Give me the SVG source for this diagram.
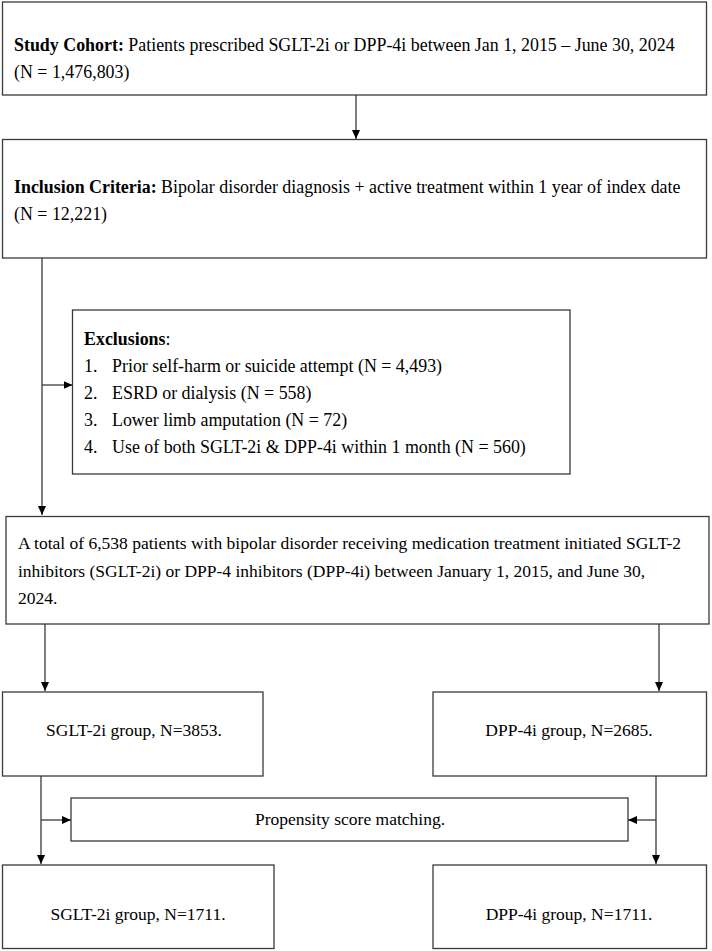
<svg xmlns="http://www.w3.org/2000/svg" width="712" height="951" viewBox="0 0 712 951">
<defs>
<marker id="ah" markerWidth="10" markerHeight="10" refX="9" refY="4" orient="auto" markerUnits="userSpaceOnUse">
<path d="M0,0 L9,4 L0,8 Z" fill="#000"/>
</marker>
<style>
.box{fill:#fff;stroke:#3a3a3a;stroke-width:1.3}
.ln{fill:none;stroke:#3a3a3a;stroke-width:1.3}
text{font-family:"Liberation Serif","Times New Roman",serif;font-size:17.5px;fill:#000}
.lg text{font-size:17.9px}
.b{font-weight:bold}
.c{text-anchor:middle}
</style>
</defs>
<rect width="712" height="951" fill="#fff"/>
<g id="connectors">
<line class="ln" x1="356" y1="95" x2="356" y2="139" marker-end="url(#ah)"/>
<line class="ln" x1="42" y1="258" x2="42" y2="515" marker-end="url(#ah)"/>
<line class="ln" x1="42" y1="385" x2="72.5" y2="385" marker-end="url(#ah)"/>
<line class="ln" x1="45" y1="624" x2="45" y2="691" marker-end="url(#ah)"/>
<line class="ln" x1="659" y1="624" x2="659" y2="691" marker-end="url(#ah)"/>
<line class="ln" x1="41" y1="776" x2="41" y2="864" marker-end="url(#ah)"/>
<line class="ln" x1="656" y1="776" x2="656" y2="864" marker-end="url(#ah)"/>
<line class="ln" x1="41" y1="820" x2="71" y2="820" marker-end="url(#ah)"/>
<line class="ln" x1="656" y1="820" x2="628" y2="820" marker-end="url(#ah)"/>
</g>
<g id="cohort" class="lg">
<rect class="box" x="2.5" y="2" width="704" height="93"/>
<text x="14" y="51"><tspan class="b">Study Cohort:</tspan> Patients prescribed SGLT-2i or DPP-4i between Jan 1, 2015 – June 30, 2024</text>
<text x="14" y="78">(N = 1,476,803)</text>
</g>
<g id="inclusion" class="lg">
<rect class="box" x="2.5" y="139.5" width="704" height="118.5"/>
<text x="14" y="193"><tspan class="b">Inclusion Criteria:</tspan> Bipolar disorder diagnosis + active treatment within 1 year of index date</text>
<text x="14" y="220">(N = 12,221)</text>
</g>
<g id="exclusions" class="lg">
<rect class="box" x="72.5" y="310" width="497.5" height="164"/>
<text x="84" y="345"><tspan class="b">Exclusions</tspan>:</text>
<text x="84" y="372">1.</text><text x="112" y="372">Prior self-harm or suicide attempt (N = 4,493)</text>
<text x="84" y="399">2.</text><text x="112" y="399">ESRD or dialysis (N = 558)</text>
<text x="84" y="426">3.</text><text x="112" y="426">Lower limb amputation (N = 72)</text>
<text x="84" y="453">4.</text><text x="112" y="453">Use of both SGLT-2i &amp; DPP-4i within 1 month (N = 560)</text>
</g>
<g id="total">
<rect class="box" x="6" y="516.5" width="703" height="107.5"/>
<text x="18" y="549">A total of 6,538 patients with bipolar disorder receiving medication treatment initiated SGLT-2</text>
<text x="18" y="577">inhibitors (SGLT-2i) or DPP-4 inhibitors (DPP-4i) between January 1, 2015, and June 30,</text>
<text x="18" y="604">2024.</text>
</g>
<g id="sglt-pre">
<rect class="box" x="2.5" y="692" width="260.5" height="84"/>
<text class="c" x="134" y="736">SGLT-2i group, N=3853.</text>
</g>
<g id="dpp-pre">
<rect class="box" x="433" y="692" width="273.5" height="84"/>
<text class="c" x="569" y="736">DPP-4i group, N=2685.</text>
</g>
<g id="psm">
<rect class="box" x="71" y="798" width="557" height="43"/>
<text class="c" x="350" y="825">Propensity score matching.</text>
</g>
<g id="sglt-post">
<rect class="box" x="2.5" y="865" width="271.5" height="83.5"/>
<text class="c" x="138" y="920">SGLT-2i group, N=1711.</text>
</g>
<g id="dpp-post">
<rect class="box" x="433" y="865" width="273.5" height="83.5"/>
<text class="c" x="569" y="920">DPP-4i group, N=1711.</text>
</g>
</svg>
